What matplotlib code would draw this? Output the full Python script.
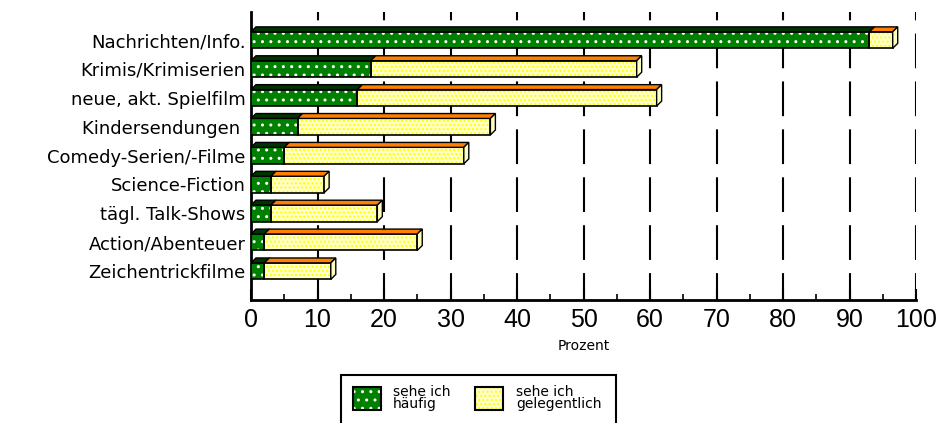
import matplotlib
matplotlib.use("Agg")
import matplotlib.pyplot as plt
from matplotlib.patches import Polygon, Rectangle

plt.rcParams['font.family'] = ['Liberation Sans', 'DejaVu Sans']
plt.rcParams['lines.scale_dashes'] = False
plt.rcParams['hatch.linewidth'] = 1.0

categories = ["Nachrichten/Info.", "Krimis/Krimiserien", "neue, akt. Spielfilm",
              "Kindersendungen ", "Comedy-Serien/-Filme", "Science-Fiction",
              "tägl. Talk-Shows", "Action/Abenteuer", "Zeichentrickfilme"]
haeufig = [93, 18, 16, 7, 5, 3, 3, 2, 2]
gelegentlich = [3.5, 40, 45, 29, 27, 8, 16, 23, 10]
xticks = [0, 10, 20, 30, 40, 50, 60, 70, 80, 90, 100]
legend_labels = ["sehe ich\nhäufig", "sehe ich\ngelegentlich"]

GREEN = "#008000"
GREEN_TOP = "#003300"
YELLOW = "#FFFFC8"
YELLOW_DOT = "#FFFF00"
ORANGE = "#FF8000"
SIDE = "#FFFFC0"
WIDE = ['DejaVu Sans']

fig = plt.figure(figsize=(9.4, 4.23), dpi=100)
ax = fig.add_axes([251/940, 1 - 300/423, 665/940, 288/423])

n = len(categories)
ypos = [n - 1 - i for i in range(n)]
h = 0.57
dx = 0.75
dy = 0.17

ax.set_xlim(0, 100)
ax.set_ylim(-1.0, 8.97)

# dashed vertical grid
for xv in xticks[1:]:
    ax.plot([xv, xv], [8.97, -1.0], color="black", lw=1.5,
            linestyle=(19, (25, 9.5)), zorder=1, dash_capstyle='butt')

for y, g, o in zip(ypos, haeufig, gelegentlich):
    tot = g + o
    top = y + h / 2
    bot = y - h / 2
    # front faces with dotted fill
    ax.barh(y, g, height=h, left=0, color=GREEN, edgecolor="white",
            hatch="..", linewidth=0, zorder=3)
    ax.barh(y, o, height=h, left=g, color=YELLOW, edgecolor=YELLOW_DOT,
            hatch="....", linewidth=0, zorder=3)
    ax.barh(y, g, height=h, left=0, fill=False, edgecolor="black", linewidth=1.2, zorder=4)
    ax.barh(y, o, height=h, left=g, fill=False, edgecolor="black", linewidth=1.2, zorder=4)
    # top faces
    ax.add_patch(Polygon([(0, top), (dx, top + dy), (g + dx, top + dy), (g, top)],
                         closed=True, facecolor=GREEN_TOP, edgecolor="black",
                         linewidth=1.0, zorder=4))
    ax.add_patch(Polygon([(g, top), (g + dx, top + dy), (tot + dx, top + dy), (tot, top)],
                         closed=True, facecolor=ORANGE, edgecolor="black",
                         linewidth=1.0, zorder=4))
    # right side face
    ax.add_patch(Polygon([(tot, bot), (tot + dx, bot + dy), (tot + dx, top + dy), (tot, top)],
                         closed=True, facecolor=SIDE, edgecolor="black",
                         linewidth=1.0, zorder=4))

ax.set_yticks(ypos)
ax.set_yticklabels(categories, fontsize=13, family=WIDE)
ax.tick_params(axis='y', length=0, pad=4)

ax.set_xticks(xticks)
ax.set_xticklabels([str(t) for t in xticks], fontsize=18)
ax.set_xticks([5 + 10 * k for k in range(10)], minor=True)
ax.tick_params(axis='x', which='major', direction='in', length=8, width=1.5, pad=6)
ax.tick_params(axis='x', which='minor', direction='in', length=4, width=1.2)
ax.set_xlabel("Prozent", fontsize=10, labelpad=5, family=WIDE)

for s in ("top", "right"):
    ax.spines[s].set_visible(False)
for s in ("left", "bottom"):
    ax.spines[s].set_linewidth(2)

# legend box
W, H = 940, 423
def fx(px):
    return px / W
def fy(py):
    return 1 - py / H

fig.patches.append(Rectangle((fx(341), fy(432)), fx(616) - fx(341), fy(375) - fy(432),
                             transform=fig.transFigure, fill=False, edgecolor="black",
                             linewidth=1.5, clip_on=False))
# legend swatches
for x0, fc, hc, hatch in [(353, GREEN, "white", ".."), (475, YELLOW, YELLOW_DOT, "....")]:
    fig.patches.append(Rectangle((fx(x0), fy(410)), 28 / W, 23 / H,
                                 transform=fig.transFigure, facecolor=fc, edgecolor=hc,
                                 hatch=hatch, linewidth=0))
    fig.patches.append(Rectangle((fx(x0), fy(410)), 28 / W, 23 / H,
                                 transform=fig.transFigure, fill=False, edgecolor="black",
                                 linewidth=1.5))
fig.text(fx(393), fy(398), legend_labels[0], fontsize=10, va="center", ha="left",
         linespacing=0.8, family=WIDE)
fig.text(fx(516), fy(398), legend_labels[1], fontsize=10, va="center", ha="left",
         linespacing=0.8, family=WIDE)

fig.savefig("out.png", dpi=100)
